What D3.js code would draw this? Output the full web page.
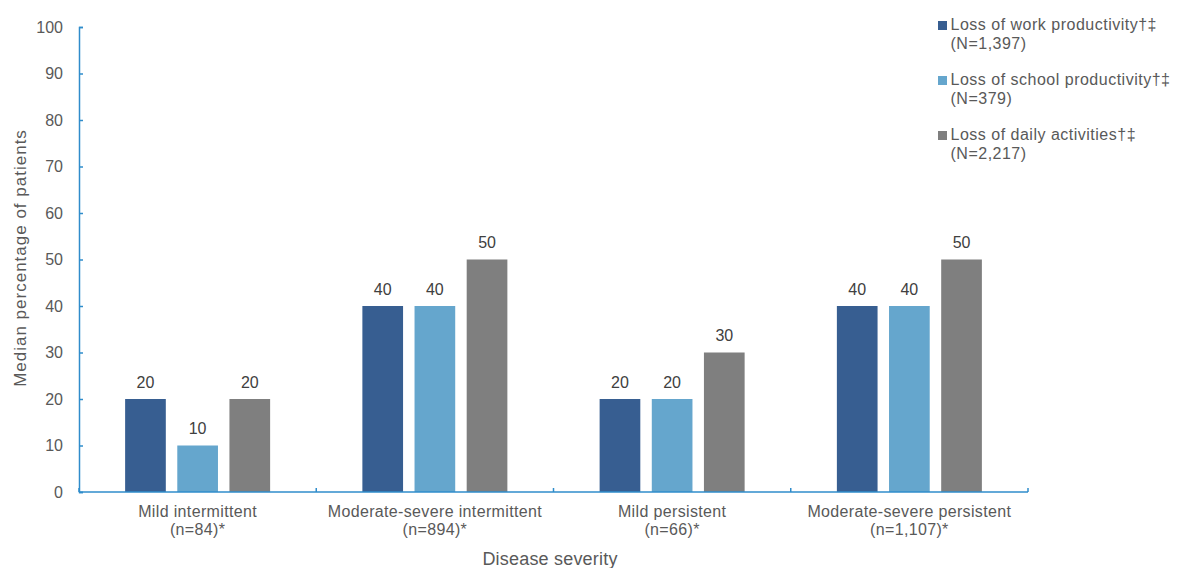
<!DOCTYPE html>
<html><head><meta charset="utf-8">
<script src="https://cdn.jsdelivr.net/npm/d3@7"></script>
<style>body{margin:0;background:#fff;} text{font-family:"Liberation Sans",Arial,sans-serif;}</style>
</head><body><svg id="c" width="1178" height="568"></svg>
<script>
const categories = [["Mild intermittent","(n=84)*"],["Moderate-severe intermittent","(n=894)*"],["Mild persistent","(n=66)*"],["Moderate-severe persistent","(n=1,107)*"]];
const seriesNames = [["Loss of work productivity†‡","(N=1,397)"],["Loss of school productivity†‡","(N=379)"],["Loss of daily activities†‡","(N=2,217)"]];
const workValues = [20,40,20,40];
const schoolValues = [10,40,20,40];
const dailyValues = [20,50,30,50];
const yTicks = [0,10,20,30,40,50,60,70,80,90,100];

(function(){
const colors = ["#375e91","#65a6cd","#7f7f7f"];
const series = [workValues, schoolValues, dailyValues];

const svg = d3.select("#c");
const pLeft = 79, pRight = 1028, pTop = 27, pBottom = 492;
const x0 = d3.scaleBand().domain(d3.range(categories.length)).range([pLeft,pRight]);
const x1 = d3.scaleBand().domain(d3.range(3)).range([0,145]).paddingInner(0.22);
const y = d3.scaleLinear().domain([0,100]).range([pBottom,pTop]);
const axisColor = "#2f8ccb", textColor = "#595959";

// bars
categories.forEach((c,i)=>{
  const g = svg.append("g").attr("transform",`translate(${x0(i)+x0.bandwidth()/2-72.5},0)`);
  series.forEach((s,j)=>{
    const bw = x1.bandwidth(), xx = x1(j);
    g.append("rect").attr("x",xx).attr("y",y(s[i])).attr("width",bw).attr("height",y(0)-y(s[i])).attr("fill",colors[j]);
    g.append("text").attr("x",xx+bw/2).attr("y",y(s[i])-11.5).attr("text-anchor","middle")
      .attr("font-size",16).attr("fill","#404040").text(s[i]);
  });
});

// y axis
const ya = svg.append("g").attr("transform",`translate(${pLeft},0)`)
  .call(d3.axisLeft(y).tickValues(yTicks).tickSize(-4).tickPadding(16));
ya.select(".domain").attr("stroke",axisColor).attr("stroke-width",1.5);
ya.selectAll(".tick line").attr("stroke",axisColor).attr("stroke-width",1.5);
ya.selectAll(".tick text").attr("font-size",16).attr("fill",textColor).attr("font-family","Liberation Sans, Arial, sans-serif");

// x axis
const xa = svg.append("g").attr("transform",`translate(0,${pBottom})`);
xa.append("line").attr("x1",pLeft).attr("x2",pRight).attr("stroke",axisColor).attr("stroke-width",1.5);
const bounds = d3.range(categories.length+1).map(i=> i<categories.length ? x0(i) : x0(i-1)+x0.bandwidth());
bounds.forEach(b=> xa.append("line").attr("x1",b).attr("x2",b).attr("y1",0).attr("y2",-4).attr("stroke",axisColor).attr("stroke-width",1.5));
categories.forEach((c,i)=>{
  const t = xa.append("text").attr("text-anchor","middle").attr("font-size",16).attr("letter-spacing",0.35).attr("fill",textColor);
  t.append("tspan").attr("x",x0(i)+x0.bandwidth()/2).attr("y",25).text(c[0]);
  t.append("tspan").attr("x",x0(i)+x0.bandwidth()/2).attr("y",43).text(c[1]);
});

// titles
svg.append("text").attr("x",550).attr("y",565).attr("text-anchor","middle").attr("font-size",18).attr("letter-spacing",0.2).attr("fill",textColor).text("Disease severity");
svg.append("text").attr("transform",`translate(26,258) rotate(-90)`).attr("text-anchor","middle").attr("font-size",17).attr("letter-spacing",1).attr("fill",textColor).text("Median percentage of patients");

// legend
seriesNames.forEach((s,j)=>{
  const yy = 30 + j*55;
  svg.append("rect").attr("x",938).attr("y",yy-9).attr("width",9).attr("height",9).attr("fill",colors[j]);
  const t = svg.append("text").attr("font-size",16).attr("letter-spacing",0.5).attr("fill",textColor);
  t.append("tspan").attr("x",950.5).attr("y",yy).text(s[0]);
  t.append("tspan").attr("x",950.5).attr("y",yy+19).text(s[1]);
});
})();
</script></body></html>
